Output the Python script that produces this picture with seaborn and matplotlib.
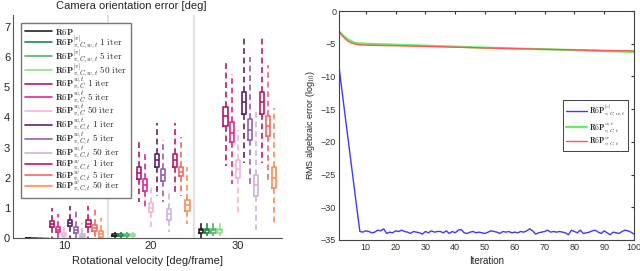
import numpy as np
import pandas as pd
import matplotlib.pyplot as plt
import seaborn as sns
from matplotlib.lines import Line2D

sns.set_style('white')
plt.rcParams['font.family'] = ['Liberation Sans', 'DejaVu Sans']
plt.rcParams['mathtext.fontset'] = 'cm'

# ---- left panel: camera orientation error ----
velocities = [10, 20, 30]
methods = [
    r'$\mathbf{R6P}$',
    r'$\mathbf{R6P}^{|v|}_{v,C,w,t}\ \mathrm{1\ iter}$',
    r'$\mathbf{R6P}^{|v|}_{v,C,w,t}\ \mathrm{5\ iter}$',
    r'$\mathbf{R6P}^{|v|}_{v,C,w,t}\ \mathrm{50\ iter}$',
    r'$\mathbf{R6P}^{w,t}_{v,C}\ \mathrm{1\ iter}$',
    r'$\mathbf{R6P}^{w,t}_{v,C}\ \mathrm{5\ iter}$',
    r'$\mathbf{R6P}^{w,t}_{v,C}\ \mathrm{50\ iter}$',
    r'$\mathbf{R6P}^{w,t}_{v,C,t}\ \mathrm{1\ iter}$',
    r'$\mathbf{R6P}^{w,t}_{v,C,t}\ \mathrm{5\ iter}$',
    r'$\mathbf{R6P}^{w,t}_{v,C,t}\ \mathrm{50\ iter}$',
    r'$\mathbf{R6P}^{w}_{v,C,t}\ \mathrm{1\ iter}$',
    r'$\mathbf{R6P}^{w}_{v,C,t}\ \mathrm{5\ iter}$',
    r'$\mathbf{R6P}^{w}_{v,C,t}\ \mathrm{50\ iter}$',
]
colors = ['#222222', '#1f8a46', '#52b46e', '#98dc8e',
          '#b0186f', '#e2298a', '#f2b6d6',
          '#5e2070', '#9460b0', '#cdb4dc',
          '#c01860', '#ef6a6a', '#fc8d59']

# [whisker low, q1, median, q3, whisker high] per method
stats_10 = [
    [0.0, 0.003, 0.006, 0.01, 0.02],
    [0.0, 0.003, 0.006, 0.01, 0.02],
    [0.0, 0.003, 0.006, 0.01, 0.02],
    [0.0, 0.003, 0.006, 0.01, 0.02],
    [0.0, 0.36, 0.45, 0.57, 1.0],
    [0.0, 0.2, 0.28, 0.35, 0.78],
    [0.0, 0.05, 0.1, 0.15, 0.5],
    [0.0, 0.4, 0.5, 0.6, 1.07],
    [0.0, 0.15, 0.27, 0.37, 0.9],
    [0.0, 0.02, 0.08, 0.13, 0.5],
    [0.0, 0.38, 0.48, 0.6, 1.07],
    [0.0, 0.22, 0.32, 0.42, 0.95],
    [0.0, 0.03, 0.12, 0.22, 0.65],
]
stats_20 = [
    [0.0, 0.05, 0.08, 0.12, 0.2],
    [0.0, 0.05, 0.08, 0.12, 0.2],
    [0.0, 0.05, 0.08, 0.12, 0.2],
    [0.0, 0.05, 0.08, 0.12, 0.2],
    [1.2, 1.95, 2.15, 2.35, 3.25],
    [1.0, 1.55, 1.75, 1.95, 2.8],
    [0.35, 0.85, 1.0, 1.15, 1.7],
    [1.4, 2.35, 2.6, 2.8, 3.8],
    [1.2, 1.9, 2.1, 2.3, 3.25],
    [0.2, 0.6, 0.8, 0.95, 1.5],
    [1.5, 2.35, 2.6, 2.8, 3.8],
    [1.4, 2.05, 2.2, 2.35, 3.35],
    [0.45, 0.9, 1.1, 1.25, 2.35],
]
stats_30 = [
    [0.0, 0.18, 0.25, 0.3, 0.55],
    [0.05, 0.18, 0.25, 0.3, 0.5],
    [0.05, 0.18, 0.25, 0.3, 0.5],
    [0.05, 0.18, 0.25, 0.3, 0.5],
    [2.4, 3.7, 4.05, 4.35, 5.85],
    [1.8, 3.2, 3.5, 3.85, 5.45],
    [0.75, 2.0, 2.3, 2.6, 3.6],
    [2.5, 4.1, 4.5, 4.85, 6.75],
    [1.75, 3.25, 3.6, 3.95, 6.0],
    [0.25, 1.4, 1.75, 2.1, 4.3],
    [2.5, 4.1, 4.5, 4.85, 6.75],
    [1.9, 3.4, 3.7, 4.05, 5.75],
    [0.5, 1.65, 2.0, 2.35, 4.3],
]

# ---- right panel: RMS algebraic error vs iteration ----
iterations = list(range(1, 101))
err_v = [
    -8.5, -12.2, -15.8, -19.4, -23.0, -26.6, -30.2, -33.7, -33.8, -33.6,
    -33.7, -33.9, -33.8, -33.5, -33.6, -33.3, -34.0, -33.8, -33.9, -33.6,
    -33.7, -33.5, -33.7, -33.8, -34.0, -33.7, -33.8, -33.9, -34.1, -33.7,
    -33.9, -33.6, -33.8, -33.7, -33.7, -33.9, -33.6, -34.0, -33.7, -33.9,
    -33.5, -33.4, -33.9, -34.0, -33.8, -33.7, -33.9, -33.8, -33.9, -34.0,
    -33.8, -33.6, -33.7, -33.8, -34.0, -33.7, -33.8, -33.7, -33.9, -33.8,
    -33.9, -33.7, -33.8, -33.6, -33.3, -33.6, -34.1, -33.9, -33.8, -33.7,
    -33.5, -33.8, -33.7, -33.8, -33.7, -33.8, -33.9, -34.2, -33.5, -33.7,
    -33.9, -33.5, -34.0, -33.9, -33.8, -33.6, -33.5, -33.8, -34.0, -33.6,
    -33.9, -34.2, -33.8, -33.9, -34.0, -33.7, -33.5, -33.6, -33.8, -34.1,
]
err_wt = [
    -3.1, -3.6, -4.0, -4.35, -4.6, -4.8, -4.9, -4.95, -4.97, -5.0,
    -5.02, -5.03, -5.05, -5.06, -5.08, -5.09, -5.11, -5.12, -5.14, -5.15,
    -5.17, -5.18, -5.20, -5.21, -5.23, -5.24, -5.26, -5.27, -5.29, -5.30,
    -5.32, -5.33, -5.35, -5.36, -5.38, -5.39, -5.41, -5.42, -5.44, -5.45,
    -5.47, -5.48, -5.50, -5.51, -5.53, -5.54, -5.56, -5.57, -5.59, -5.60,
    -5.61, -5.63, -5.64, -5.65, -5.66, -5.68, -5.69, -5.70, -5.71, -5.73,
    -5.74, -5.75, -5.76, -5.78, -5.79, -5.80, -5.81, -5.83, -5.84, -5.85,
    -5.86, -5.88, -5.89, -5.90, -5.91, -5.93, -5.94, -5.95, -5.96, -5.98,
    -5.99, -6.00, -6.01, -6.03, -6.04, -6.05, -6.07, -6.08, -6.10, -6.11,
    -6.12, -6.14, -6.15, -6.16, -6.18, -6.19, -6.20, -6.22, -6.23, -6.25,
]
err_w = [
    -3.1, -3.7, -4.2, -4.6, -4.85, -5.0, -5.1, -5.15, -5.2, -5.22,
    -5.23, -5.24, -5.25, -5.26, -5.27, -5.28, -5.28, -5.29, -5.30, -5.31,
    -5.32, -5.33, -5.34, -5.35, -5.36, -5.37, -5.37, -5.38, -5.39, -5.40,
    -5.41, -5.43, -5.44, -5.45, -5.46, -5.48, -5.49, -5.50, -5.51, -5.53,
    -5.54, -5.55, -5.56, -5.58, -5.59, -5.60, -5.61, -5.63, -5.64, -5.65,
    -5.66, -5.67, -5.68, -5.69, -5.70, -5.71, -5.72, -5.73, -5.74, -5.75,
    -5.76, -5.77, -5.78, -5.79, -5.80, -5.81, -5.82, -5.83, -5.84, -5.85,
    -5.86, -5.87, -5.88, -5.89, -5.90, -5.91, -5.92, -5.93, -5.94, -5.95,
    -5.96, -5.97, -5.98, -5.99, -6.00, -6.01, -6.01, -6.02, -6.03, -6.04,
    -6.04, -6.05, -6.06, -6.06, -6.07, -6.08, -6.08, -6.09, -6.09, -6.10,
]
line_labels = [r'$\mathbf{R6P}^{|v|}_{v,C,w,t}$',
               r'$\mathbf{R6P}^{w,t}_{v,C,t}$',
               r'$\mathbf{R6P}^{w}_{v,C,t}$']
line_colors = ['#3b3bff', '#66ee66', '#ff5555']

# build box table: each box given by its 5 summary values
rows = []
for v, stats in zip(velocities, [stats_10, stats_20, stats_30]):
    for i, (m, s) in enumerate(zip(methods, stats)):
        pos = round(v + (i - 6) * 0.7, 2)
        for val in s:
            rows.append({'pos': pos, 'val': val, 'method': m})
box_df = pd.DataFrame(rows)

fig = plt.figure(figsize=(6.4, 2.71), dpi=100)
ax1 = fig.add_axes([0.0203, 0.1218, 0.4203, 0.8229])
ax2 = fig.add_axes([0.5297, 0.1144, 0.4609, 0.845])

for xs in [15, 25]:
    ax1.axvline(xs, color='#e2e2e2', lw=1.5, zorder=0)

sns.boxplot(data=box_df, x='pos', y='val', hue='method', hue_order=methods,
            palette=colors, native_scale=True, dodge=False, fill=False,
            whis=(0, 100), width=0.7, showcaps=False, linewidth=1.2,
            whiskerprops=dict(linestyle=(0, (3.5, 2.2))),
            legend=False, ax=ax1)

ax1.set_xlim(4.1, 35.1)
ax1.set_ylim(0, 7.4)
ax1.set_xticks(velocities)
ax1.set_yticks(range(0, 8))
ax1.set_xlabel('Rotational velocity [deg/frame]', fontsize=8, labelpad=4)
ax1.set_ylabel('')
ax1.tick_params(labelsize=8, length=0, pad=2)
for side in ['top', 'right']:
    ax1.spines[side].set_visible(False)
for side in ['left', 'bottom']:
    ax1.spines[side].set_color('#555555')
    ax1.spines[side].set_linewidth(0.8)
fig.text(131 / 640, 1 - 6 / 271, 'Camera orientation error [deg]',
         fontsize=8, ha='center', va='center')

handles = [Line2D([], [], color=c, lw=1.2) for c in colors]
leg = ax1.legend(handles, methods, loc='upper left', bbox_to_anchor=(0.03, 0.964),
                 borderaxespad=0, fontsize=6.6, labelspacing=-0.4, handlelength=3.0,
                 handletextpad=0.35, borderpad=0.4, fancybox=False, framealpha=1)
leg.get_frame().set_edgecolor('#777777')
leg.get_frame().set_linewidth(1)

# right panel
for y, lab, c, lw in zip([err_v, err_wt, err_w], line_labels, line_colors, [1.0, 1.6, 1.0]):
    sns.lineplot(x=iterations, y=y, color=c, lw=lw, label=lab, ax=ax2)

ax2.set_xlim(1, 100)
ax2.set_ylim(-35, 0)
ax2.set_xticks(range(10, 101, 10))
ax2.set_yticks(range(-35, 1, 5))
ax2.set_xlabel('Iteration', fontsize=7, labelpad=3)
ax2.set_ylabel(r'RMS algebraic error (log$_{10}$)', fontsize=6.5, labelpad=3)
ax2.tick_params(labelsize=6.5, direction='in', length=2.5, top=True, right=True,
                pad=2, colors='#333333')
for side in ax2.spines.values():
    side.set_color('#444444')
    side.set_linewidth(0.8)
leg2 = ax2.legend(loc='center right', bbox_to_anchor=(0.98, 0.5), fontsize=5.5,
                  fancybox=False, framealpha=1, borderpad=0.3, labelspacing=0.1,
                  handlelength=2.8, handletextpad=0.3, borderaxespad=0)
leg2.get_frame().set_edgecolor('#222222')
leg2.get_frame().set_linewidth(0.6)

fig.savefig('out.png', dpi=100)
